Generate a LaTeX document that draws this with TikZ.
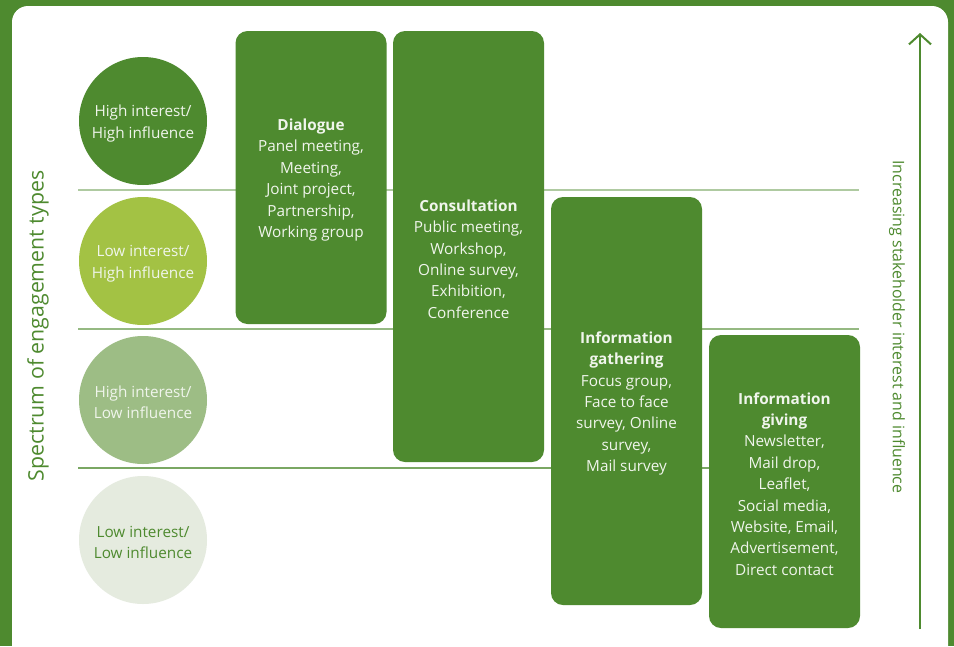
\documentclass[tikz,border=0pt]{standalone}
\usepackage{fontspec}
\setmainfont{Open Sans}
\usetikzlibrary{arrows.meta}
\definecolor{leafgreen}{HTML}{4E8A2F}
\definecolor{limegreen}{HTML}{A3C244}
\definecolor{sagegreen}{HTML}{9DBD85}
\definecolor{palegreen}{HTML}{E5EBDF}
\definecolor{paletext}{HTML}{F0F5EC}

\begin{document}
\begin{tikzpicture}[x=1pt,y=-1pt,
    disc/.style={circle,minimum size=128pt,inner sep=0pt,align=center,
      font=\fontsize{15.3}{21.5}\selectfont},
    disctext/.style={align=center,inner sep=0pt,yshift=-2.5pt,font=\fontsize{15.3}{21.5}\selectfont},
    panel/.style={fill=leafgreen,rounded corners=12pt,inner sep=0pt,minimum width=151pt},
    paneltext/.style={text=paletext,align=center,yshift=-2.5pt,font=\fontsize{15.3}{21.4}\selectfont},
    band/.style={line width=1.1pt}]
    \useasboundingbox (0,0) rectangle (954,646);
    % frame
    \fill [leafgreen] (0,0) rectangle (954,646);
    \fill [white,rounded corners=16pt] (12,6) rectangle (948,670);
    % bands
    \draw [band,draw=leafgreen!45] (78,190) -- (859,190);
    \draw [band,draw=leafgreen!60] (78,329) -- (859,329);
    \draw [band,draw=leafgreen!75] (78,468) -- (859,468);
    % circles
    \node [disc,fill=leafgreen] (hh) at (143,121) {};
    \node [disc,fill=limegreen] (lh) at (143,261) {};
    \node [disc,fill=sagegreen] (hl) at (143,400) {};
    \node [disc,fill=palegreen] (ll) at (143,540) {};
    \node [disctext,text=paletext] (hhtext) at (hh.center) {High interest/\\High influence};
    \node [disctext,text=paletext] (lhtext) at (lh.center) {Low interest/\\High influence};
    \node [disctext,text=paletext] (hltext) at (hl.center) {High interest/\\Low influence};
    \node [disctext,text=leafgreen] (lltext) at (ll.center) {Low interest/\\Low influence};
    % engagement boxes
    \node [panel,minimum height=293pt] (dialogue) at (311,177.5) {};
    \node [panel,minimum height=431pt] (consult) at (468.5,246.5) {};
    \node [panel,minimum height=408pt] (gather) at (626.5,401) {};
    \node [panel,minimum height=293pt] (giving) at (784.5,481.5) {};
    \node [paneltext] (dialoguetext) at (dialogue.center)
      {\textbf{Dialogue}\\Panel meeting,\\Meeting,\\Joint project,\\Partnership,\\Working group};
    \node [paneltext] (consulttext) at (468.5,256.5)
      {\textbf{Consultation}\\Public meeting,\\Workshop,\\Online survey,\\Exhibition,\\Conference};
    \node [paneltext] (gathertext) at (gather.center)
      {\textbf{Information}\\\textbf{gathering}\\Focus group,\\Face to face\\survey, Online\\survey,\\Mail survey};
    \node [paneltext] (givingtext) at (giving.center)
      {\textbf{Information}\\\textbf{giving}\\Newsletter,\\Mail drop,\\Leaflet,\\Social media,\\Website, Email,\\Advertisement,\\Direct contact};
    % axis labels
    \node [rotate=90,text=leafgreen,font=\fontsize{21.3}{24}\selectfont] (spectrum) at (38,326) {Spectrum of engagement types};
    \coordinate (axisfoot) at (920,629);
    \coordinate (axistip) at (920,33);
    \draw [leafgreen,line width=2pt,-{Straight Barb[length=10pt,width=22pt,line width=2pt]}] (axisfoot) -- (axistip);
    \node [rotate=-90,text=leafgreen,font=\fontsize{15.9}{18}\selectfont] (increase) at (897,327) {Increasing stakeholder interest and influence};
\end{tikzpicture}
\end{document}
